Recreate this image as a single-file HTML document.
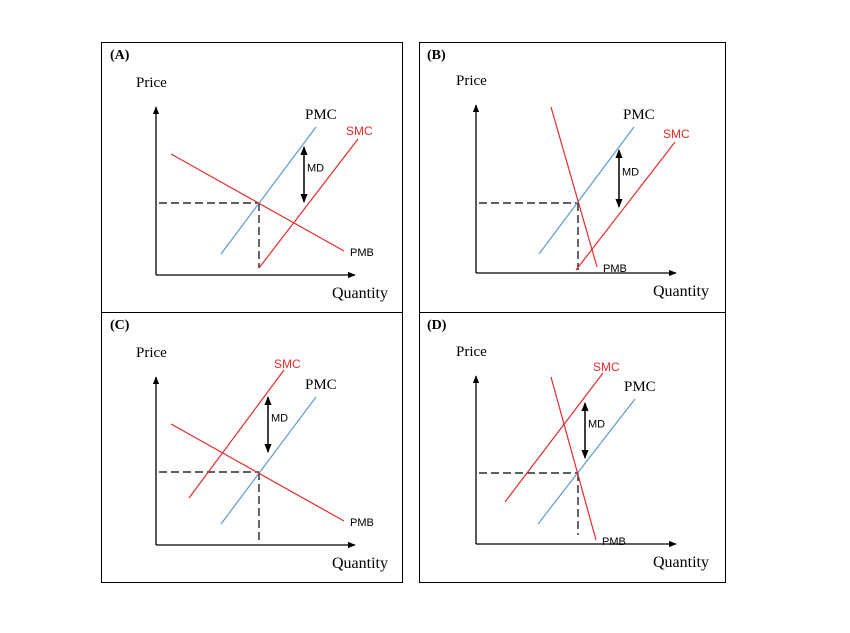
<!DOCTYPE html>
<html><head><meta charset="utf-8"><style>
html,body{margin:0;padding:0;background:#fff;}
svg{display:block;}
.ser{font-family:"Liberation Serif",serif;}
.san{font-family:"Liberation Sans",sans-serif;}
</style></head><body>
<svg id="chart" width="850" height="633" viewBox="0 0 850 633" xmlns="http://www.w3.org/2000/svg">
<defs>
<marker id="ah" viewBox="0 0 10 10" refX="9" refY="5" markerWidth="6" markerHeight="6" orient="auto-start-reverse"><path d="M0,1 L10,5 L0,9 z" fill="#000"/></marker>
</defs>
<rect x="101.5" y="42.5" width="301" height="270" fill="none" stroke="#000"/>
<rect x="419.5" y="42.5" width="306" height="270" fill="none" stroke="#000"/>
<rect x="101.5" y="312.5" width="301" height="270" fill="none" stroke="#000"/>
<rect x="419.5" y="312.5" width="306" height="270" fill="none" stroke="#000"/>
</svg>
<script>
// data units: 1 unit = 10px from each panel's origin
const panelIds = ['a','b','c','d'];
const pmcLines = [[[6.5,2.1],[16,14.8]],[[6.3,1.9],[15.8,14.6]],[[6.5,2.1],[16,14.8]],[[6.2,2],[15.9,14.5]]];
const smcLines = [[[10.3,0.7],[20.2,13.6]],[[10,0.3],[19.9,13.1]],[[3.3,4.7],[12.8,17.5]],[[2.9,4.2],[12.7,17.1]]];
const pmbLines = [[[1.5,12.1],[18.8,2.4]],[[7.5,16.6],[12.1,0.6]],[[1.5,12.1],[18.8,2.4]],[[7.5,16.7],[12,0.4]]];
const equilibria = [[10.3,7.2],[10.2,7],[10.3,7.3],[10.2,7.1]];
const dashBottoms = [0.7,0.3,0.5,0.9];
const mdArrows = [[14.8,12.8,7.3],[14.3,12.3,6.6],[11.2,14.8,9.3],[10.9,14.1,8.6]];
const panelTitles = ['(A)','(B)','(C)','(D)'];

const origins = [[156,275],[476,273],[156,545],[476,544]];
const svg = document.getElementById('chart');
const NS = 'http://www.w3.org/2000/svg';
function mk(tag, attrs){const e=document.createElementNS(NS,tag);for(const k in attrs)e.setAttribute(k,attrs[k]);svg.appendChild(e);return e;}
function sx(p,v){return origins[p][0]+v*10;}
function sy(p,v){return origins[p][1]-v*10;}
function txt(s,x,y,cls,size,fill,weight){const t=mk('text',{x:x,y:y,class:cls,'font-size':size,fill:fill||'#000'});if(weight)t.setAttribute('font-weight',weight);t.textContent=s;return t;}

for(let p=0;p<4;p++){
  const id=panelIds[p];
  const ox=origins[p][0], oy=origins[p][1];
  const right = p%2? 676:355;
  let e;
  e=mk('line',{x1:ox,y1:oy,x2:ox,y2:oy-168,stroke:'#000','stroke-width':1.3,'marker-end':'url(#ah)'});
  
  
  e=mk('line',{x1:ox,y1:oy,x2:right,y2:oy,stroke:'#000','stroke-width':1.3,'marker-end':'url(#ah)'});
  
  
  const q=equilibria[p];
  e=mk('line',{x1:ox+3,y1:sy(p,q[1]),x2:sx(p,q[0]),y2:sy(p,q[1]),stroke:'#000','stroke-width':1.2,'stroke-dasharray':'8,4'});
  
  
  e=mk('line',{x1:sx(p,q[0]),y1:sy(p,q[1]),x2:sx(p,q[0]),y2:sy(p,dashBottoms[p]),stroke:'#000','stroke-width':1.2,'stroke-dasharray':'8,4'});
  
  
  const L=[[pmcLines[p],'#5b9bd5','pmc'],[smcLines[p],'#e52b2b','smc'],[pmbLines[p],'#e52b2b','pmb']];
  for(const [ln,c,n] of L){
    e=mk('line',{x1:sx(p,ln[0][0]),y1:sy(p,ln[0][1]),x2:sx(p,ln[1][0]),y2:sy(p,ln[1][1]),stroke:c,'stroke-width':1.2});
    
    
  }
  const m=mdArrows[p];
  e=mk('line',{x1:sx(p,m[0]),y1:sy(p,m[1]),x2:sx(p,m[0]),y2:sy(p,m[2]),stroke:'#000','stroke-width':1.5,'marker-end':'url(#ah)','marker-start':'url(#ah)'});
  
  
  e=txt('MD',sx(p,m[0])+3,(sy(p,m[1])+sy(p,m[2]))/2-3,'san',11);
  
  
  const pmc=pmcLines[p][1], smc=smcLines[p][1], pmb=pmbLines[p][1];
  e=txt('PMC',sx(p,pmc[0])-11,sy(p,pmc[1])-8,'ser',15);
  
  
  const smcL = (p<2)? [sx(p,smc[0])-12, sy(p,smc[1])-4] : [sx(p,smc[0])-10, sy(p,smc[1])-2];
  e=txt('SMC',smcL[0],smcL[1],'san',12,'#e52b2b');
  
  
  e=txt('PMB',sx(p,pmb[0])+6,sy(p,pmb[1])+5,'san',11);
  
  
  e=txt('Price',ox-20,oy-188,'ser',15);
  
  
  e=txt('Quantity',right-23,oy+23,'ser',16);
  
  
  e=txt(panelTitles[p],(p%2?427:110),(p<2?59:329),'ser',14,'#000','bold');
  
  
}
</script>
</body></html>
